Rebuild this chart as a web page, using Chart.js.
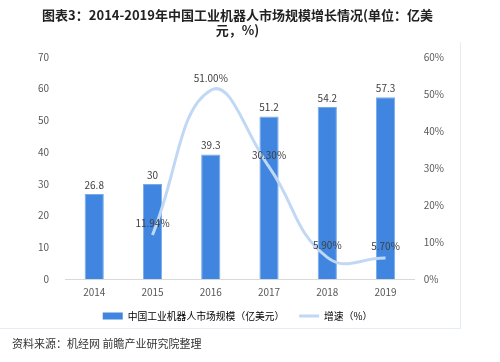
<!DOCTYPE html>
<html>
<head>
<meta charset="utf-8">
<script src="https://cdn.jsdelivr.net/npm/chart.js@4"></script>
<style>
  body { margin: 0; background: #fff; }
  #wrap { position: relative; width: 500px; height: 362px; }
  #frame { position: absolute; left: -2px; top: 42px; width: 462px; height: 286px;
           border-right: 1px solid #e6ecf3; border-bottom: 1px solid #e6ecf3; }
  #src { position: absolute; left: 12px; top: 335px; font: 11px "Noto Sans CJK SC", sans-serif; color: #333; }
</style>
</head>
<body>
<div id="wrap">
  <div id="frame"></div>
  <canvas id="chart" width="500" height="362"></canvas>
  <div id="src">资料来源：机经网 前瞻产业研究院整理</div>
</div>
<script>
// values
const years = ['2014', '2015', '2016', '2017', '2018', '2019']
const marketSize = [26.8, 30, 39.3, 51.2, 54.2, 57.3]
const growth = [null, 11.94, 51.00, 30.30, 5.90, 5.70]

const font = '"Noto Sans CJK SC", "Noto Sans", sans-serif'

// labels above bars and line points
const valueLabels = {
    id: 'valueLabels',
    afterDatasetsDraw(chart) {
        const c = chart.ctx
        c.save()
        c.font = '10px ' + font
        c.fillStyle = '#404040'
        c.textAlign = 'center'
        c.textBaseline = 'middle'
        chart.getDatasetMeta(0).data.forEach(function (bar, i) {
            c.fillText(String(marketSize[i]), bar.x, bar.y - 9)
        })
        chart.getDatasetMeta(1).data.forEach(function (pt, i) {
            if (growth[i] == null) return
            c.fillText(growth[i].toFixed(2) + '%', pt.x, pt.y - 12)
        })
        c.restore()
    }
}

const ctx = document.getElementById('chart')

new Chart(ctx, {
    data: {
        labels: years,
        datasets: [{
            type: 'bar',
            label: '中国工业机器人市场规模（亿美元）',
            data: marketSize,
            backgroundColor: 'rgb(64, 134, 224)',
            borderColor: 'rgb(120, 170, 235)',
            borderWidth: 1,
            barPercentage: 0.33,
            categoryPercentage: 1,
            yAxisID: 'y',
            order: 2
        }, {
            type: 'line',
            label: '增速（%）',
            data: growth,
            borderColor: 'rgb(193, 216, 245)',
            backgroundColor: 'rgb(193, 216, 245)',
            borderWidth: 3,
            tension: 0.45,
            pointRadius: 0,
            yAxisID: 'y1',
            order: 1
        }]
    },
    options: {
        responsive: false,
        animation: false,
        layout: { padding: { left: 22, right: 47, top: 0, bottom: 31 } },
        plugins: {
            title: {
                display: true,
                text: ['图表3：2014-2019年中国工业机器人市场规模增长情况(单位：亿美', '元，%)'],
                color: '#222',
                font: { family: font, size: 13, weight: 'bold', lineHeight: 1.15 },
                padding: { top: 8, bottom: 19 }
            },
            legend: {
                position: 'bottom',
                labels: {
                    usePointStyle: true,
                    pointStyleWidth: 20,
                    boxHeight: 7,
                    padding: 6,
                    color: '#595959',
                    font: { family: font, size: 9.8 },
                    generateLabels: function (chart) {
                        return chart.data.datasets.map(function (ds, i) {
                            return {
                                text: ds.type === 'line' ? ds.label : ds.label + '    ',
                                fillStyle: ds.backgroundColor,
                                strokeStyle: ds.type === 'line' ? ds.borderColor : ds.backgroundColor,
                                lineWidth: ds.type === 'line' ? 3 : 0,
                                pointStyle: ds.type === 'line' ? 'line' : 'rect',
                                datasetIndex: i
                            }
                        })
                    }
                }
            },
            tooltip: { enabled: false }
        },
        scales: {
            x: {
                grid: { display: false, drawTicks: false },
                border: { color: '#d9d9d9' },
                ticks: { color: '#595959', font: { family: font, size: 10 }, padding: 7 }
            },
            y: {
                position: 'left',
                min: 0, max: 70,
                grid: { display: false, drawTicks: false },
                border: { display: false },
                ticks: { stepSize: 10, color: '#595959', font: { family: font, size: 10 }, padding: 16 }
            },
            y1: {
                position: 'right',
                min: 0, max: 60,
                grid: { display: false, drawTicks: false },
                border: { display: false },
                ticks: {
                    stepSize: 10, color: '#595959', font: { family: font, size: 10 }, padding: 9,
                    callback: function (v) { return v + '%' }
                }
            }
        }
    },
    plugins: [valueLabels]
})
</script>
</body>
</html>
